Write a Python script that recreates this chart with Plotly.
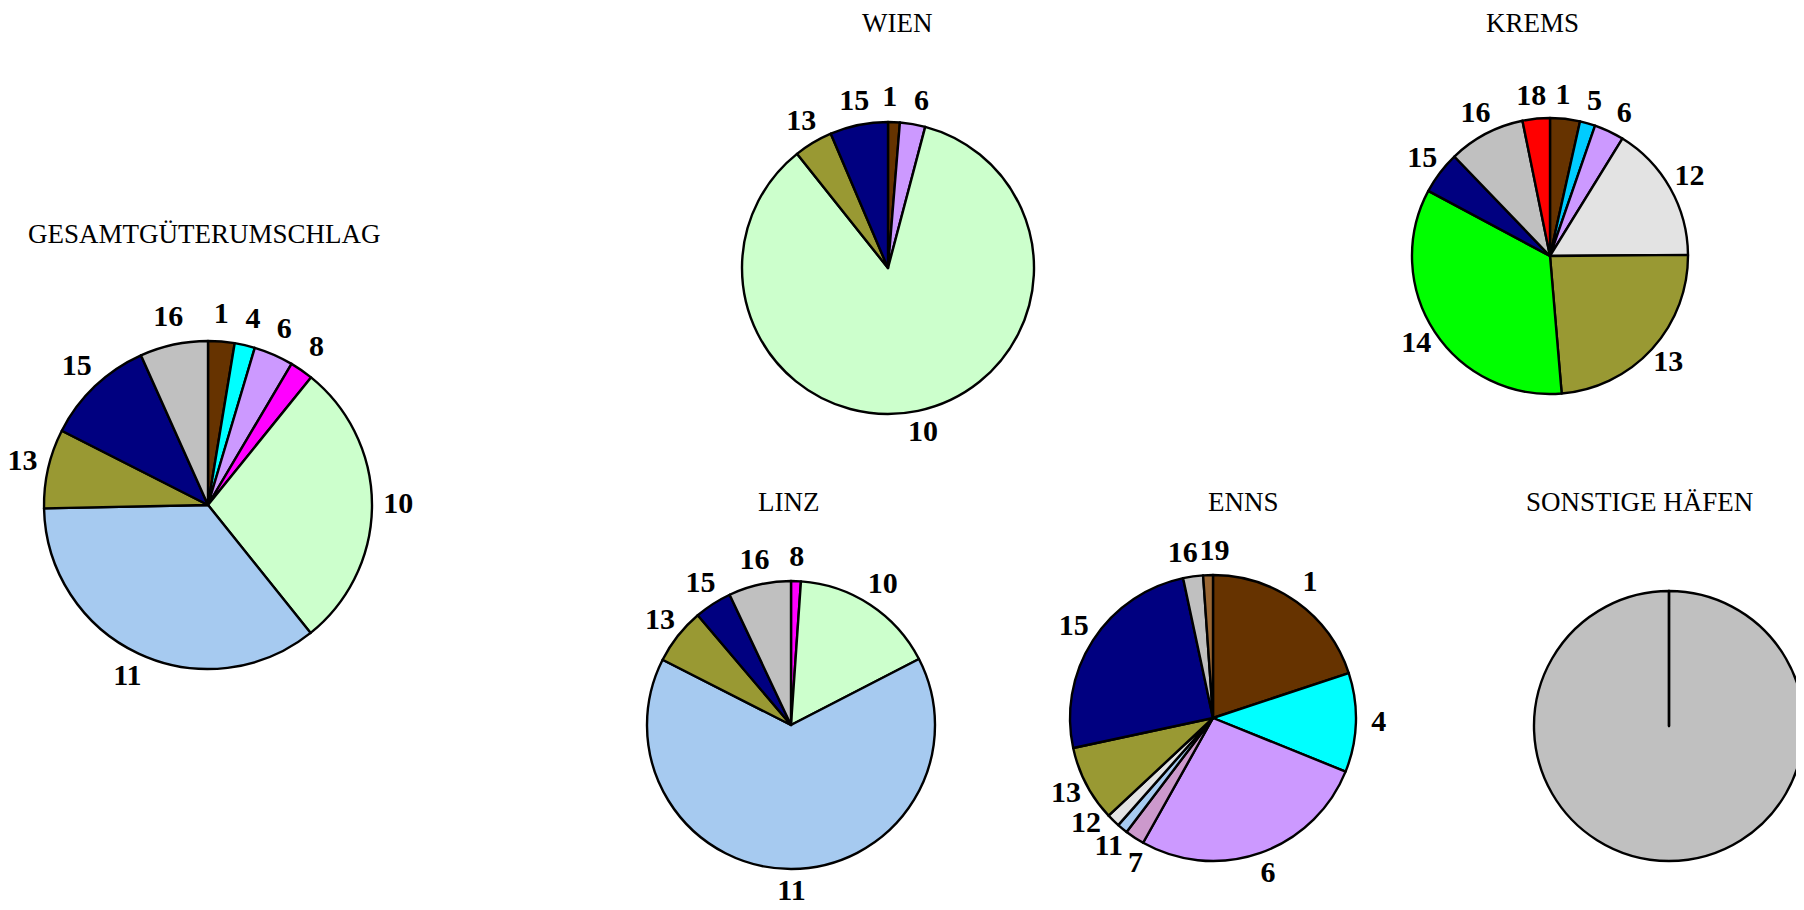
import math
import plotly.graph_objects as go

W, H = 1804, 910
OFF = 8  # default page margin of the browser body

# ---- data (shares in %) ----
gesamt_labels = ["1", "4", "6", "8", "10", "11", "13", "15", "16"]
gesamt_values = [2.6, 2.0, 3.9, 2.3, 28.4, 35.4, 7.8, 10.8, 6.7]

wien_labels = ["1", "6", "10", "13", "15"]
wien_values = [1.3, 2.8, 85.1, 4.3, 6.4]

krems_labels = ["1", "5", "6", "12", "13", "14", "15", "16", "18"]
krems_values = [3.5, 1.8, 3.5, 16.1, 23.8, 34.2, 5.0, 9.0, 3.2]

linz_labels = ["8", "10", "11", "13", "15", "16"]
linz_values = [1.1, 16.3, 65.0, 6.3, 4.2, 7.0]

enns_labels = ["1", "4", "6", "7", "11", "12", "13", "15", "16", "19"]
enns_values = [19.9, 11.2, 27.0, 2.2, 1.2, 1.5, 8.6, 25.0, 2.25, 1.1]

sonstige_labels = ["16", "19"]
sonstige_values = [100.0, 0.0001]

titles = ["GESAMTGÜTERUMSCHLAG", "WIEN", "KREMS", "LINZ", "ENNS", "SONSTIGE HÄFEN"]

# ---- styling ----
colors = {
    "1": "#663300", "4": "#00FFFF", "5": "#00CCFF", "6": "#CC99FF",
    "7": "#CC99CC", "8": "#FF00FF", "10": "#CCFFCC", "11": "#A6CAF0",
    "12": "#E3E3E3", "13": "#999933", "14": "#00FF00", "15": "#000080",
    "16": "#C0C0C0", "18": "#FF0000", "19": "#996633",
}

# layout in pixels: (center x, center y, radius, title x, title y, show labels)
geom = [
    (208, 505, 164, 204, 234, True),
    (888, 268, 146, 897, 23, True),
    (1550, 256, 138, 1532, 23, True),
    (791, 725, 144, 788, 502, True),
    (1213, 718, 143, 1243, 502, True),
    (1669, 726, 135, 1639, 502, False),
]

series = [
    (gesamt_labels, gesamt_values),
    (wien_labels, wien_values),
    (krems_labels, krems_values),
    (linz_labels, linz_values),
    (enns_labels, enns_values),
    (sonstige_labels, sonstige_values),
]

LABEL_R = 1.16      # label distance in units of pie radius
POLAR_R = 1.2       # label-layer radius in units of pie radius
MIN_GAP_PX = 32     # minimum arc spacing between neighbouring labels


def label_angles(values, radius_px):
    total = sum(values)
    mids, cum = [], 0.0
    for v in values:
        mids.append((cum + v / 2) / total * 360)
        cum += v
    n = len(mids)
    sep = math.degrees(MIN_GAP_PX / (radius_px * LABEL_R))
    for _ in range(200):
        for i in range(n):
            j = (i + 1) % n
            d = (mids[j] - mids[i]) % 360
            if d < sep:
                s = (sep - d) / 2
                mids[i] -= s
                mids[j] += s
    return mids


def domain(cx, cy, r):
    return dict(x=[max(0, (cx - r) / W), min(1, (cx + r) / W)],
                y=[max(0, 1 - (cy + r) / H), min(1, 1 - (cy - r) / H)])


fig = go.Figure()
annotations = []
layout_polars = {}
for k, ((labels, values), (cx, cy, r, tx, ty, show), title) in enumerate(zip(series, geom, titles)):
    cx, cy, tx, ty = cx - OFF, cy - OFF, tx - OFF, ty - OFF
    fig.add_trace(go.Pie(
        labels=labels,
        values=values,
        sort=False,
        direction="clockwise",
        rotation=0,
        marker=dict(colors=[colors[l] for l in labels],
                    line=dict(color="black", width=2.4)),
        textinfo="none",
        domain=domain(cx, cy, r),
        hoverinfo="skip",
        showlegend=False,
    ))
    if show:
        key = "polar" if k == 0 else f"polar{k + 1}"
        layout_polars[key] = dict(
            domain=domain(cx, cy, r * POLAR_R), bgcolor="rgba(0,0,0,0)",
            angularaxis=dict(visible=False, rotation=90, direction="clockwise"),
            radialaxis=dict(visible=False, range=[0, POLAR_R]),
        )
        fig.add_trace(go.Scatterpolar(
            subplot=key,
            r=[LABEL_R] * len(labels),
            theta=label_angles(values, r),
            mode="text",
            text=[f"<b>{l}</b>" for l in labels],
            textposition="middle center",
            textfont=dict(family="Liberation Serif", size=30, color="black"),
            cliponaxis=False,
            hoverinfo="skip",
            showlegend=False,
        ))
    annotations.append(dict(
        text=title, x=tx / W, y=1 - ty / H, xref="paper", yref="paper",
        xanchor="center", yanchor="middle", showarrow=False,
        font=dict(family="Liberation Serif", size=27, color="black"),
    ))

fig.update_layout(
    width=W, height=H,
    margin=dict(l=0, r=0, t=0, b=0),
    paper_bgcolor="white", plot_bgcolor="white",
    annotations=annotations,
    **layout_polars,
)

fig.write_html("out.html")
